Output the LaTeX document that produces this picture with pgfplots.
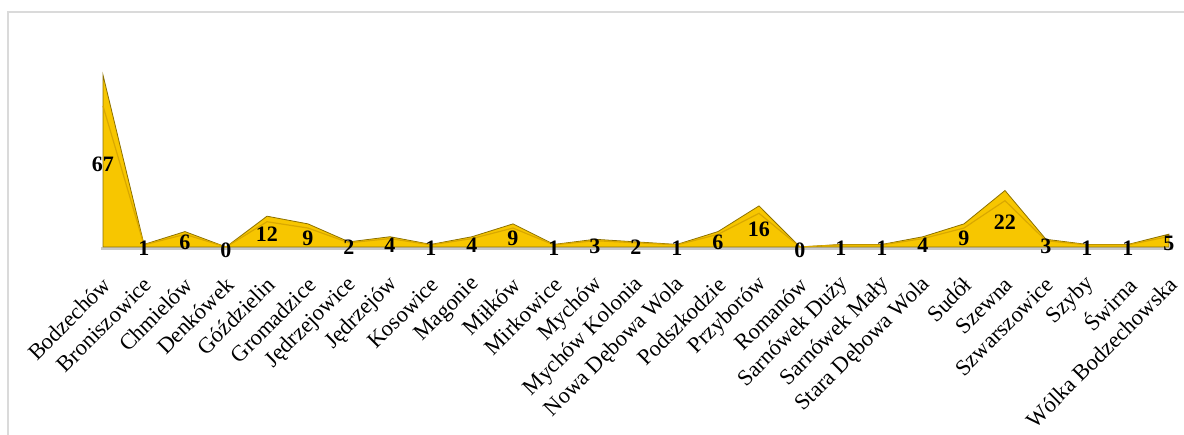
\documentclass[border=0pt]{standalone}
\usepackage{fontspec}
\setmainfont{Liberation Serif}
\usepackage{pgfplots}
\usepackage{pgfplotstable}
\pgfplotsset{compat=1.18}
\definecolor{goldfill}{HTML}{F7C600}
\definecolor{goldedge}{HTML}{8C7000}
\definecolor{goldinner}{HTML}{D9A800}
\definecolor{framegray}{HTML}{DADADA}
\definecolor{floorgray}{HTML}{C8C8C8}
\pgfplotstableread{
x y
0 67
1 1
2 6
3 0
4 12
5 9
6 2
7 4
8 1
9 4
10 9
11 1
12 3
13 2
14 1
15 6
16 16
17 0
18 1
19 1
20 4
21 9
22 22
23 3
24 1
25 1
26 5
}\datatable
\begin{document}
\begin{tikzpicture}
\path[use as bounding box] (0,0) rectangle (1184pt,435pt);
\draw[framegray, line width=2pt] (8pt,0) -- (8pt,423pt) -- (1184pt,423pt);
\begin{axis}[
  at={(103pt,188pt)}, anchor=south west,
  scale only axis, width=1066pt, height=172pt,
  xmin=0, xmax=26, ymin=0, ymax=67,
  clip=false,
  hide axis,
]
\addplot[floorgray, line width=3pt, forget plot] coordinates {(-0.05,-0.45) (26.1,-0.45)};
\addplot[fill=goldfill, draw=goldedge, line width=0.8pt] table[x=x,y=y] {\datatable} \closedcycle;
\addplot[draw=goldinner, line width=1.2pt, mark=none] table[x=x, y expr=0.82*\thisrow{y}] {\datatable};
\end{axis}
\begin{axis}[
  at={(103pt,188pt)}, anchor=south west,
  scale only axis, width=1066pt, height=172pt,
  xmin=0, xmax=26, ymin=0, ymax=67,
  clip=false,
  axis x line=bottom, axis y line=none,
  x axis line style={draw=none},
  major tick length=0pt,
  xtick=data,
  xticklabels={Bodzechów,Broniszowice,Chmielów,Denkówek,Góździelin,Gromadzice,Jędrzejowice,Jędrzejów,Kosowice,Magonie,Miłków,Mirkowice,Mychów,Mychów Kolonia,Nowa Dębowa Wola,Podszkodzie,Przyborów,Romanów,Sarnówek Duży,Sarnówek Mały,Stara Dębowa Wola,Sudół,Szewna,Szwarszowice,Szyby,Świrna,Wólka Bodzechowska},
  xticklabel style={font=\rmfamily\fontsize{22.5}{25}\selectfont, inner sep=0pt, anchor=east, xshift=4pt, yshift=-34pt, rotate=45},
  nodes near coords={\textbf{\pgfplotspointmeta}},
  point meta=explicit symbolic,
  every node near coord/.style={font=\rmfamily\fontsize{22}{24}\selectfont, anchor=center, yshift=-3pt, text=black},
]
\addplot[draw=none, mark=none] table[x=x, y expr=\thisrow{y}/2, meta=y] {\datatable};
\end{axis}
\end{tikzpicture}
\end{document}
